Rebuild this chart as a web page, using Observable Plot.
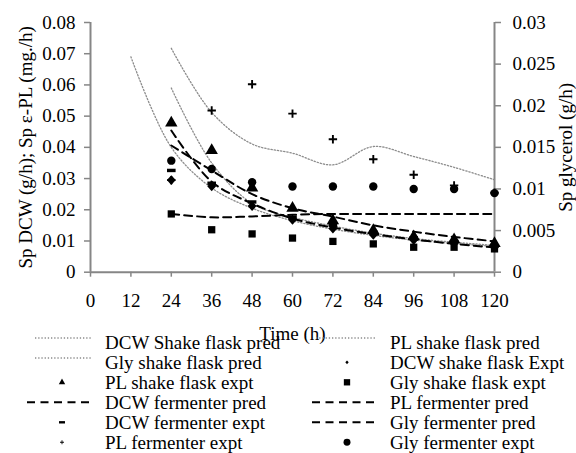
<!DOCTYPE html>
<html><head><meta charset="utf-8">
<script src="https://cdn.jsdelivr.net/npm/d3@7"></script>
<script src="https://cdn.jsdelivr.net/npm/@observablehq/plot@0.6"></script>
<style>
body{margin:0;background:#fff;}
#chart{width:576px;height:453px;position:relative;overflow:hidden;font-family:"Liberation Serif",serif;}
#chart svg text{font-family:"Liberation Serif",serif;}
</style>
</head><body><div id="chart"></div>
<script>
// ---- axis ticks ----
const timeTicks = [0, 12, 24, 36, 48, 60, 72, 84, 96, 108, 120];
const leftTicks = [0, 0.01, 0.02, 0.03, 0.04, 0.05, 0.06, 0.07, 0.08];
const rightTicks = [0, 0.005, 0.01, 0.015, 0.02, 0.025, 0.03];
const rightTickLabels = ["0", "0.005", "0.01", "0.015", "0.02", "0.025", "0.03"];

// ---- time points ----
const times = [24, 36, 48, 60, 72, 84, 96, 108, 120];
const timesFrom12 = [12, 24, 36, 48, 60, 72, 84, 96, 108, 120];

// ---- shake flask (left axis: DCW g/h, PL mg/h; right axis: glycerol g/h) ----
const dcwShakePred = [0.0690, 0.0400, 0.0270, 0.0205, 0.0165, 0.0138, 0.0118, 0.0103, 0.0092, 0.0083]; // from 12 h
const plShakePred = [0.0590, 0.0350, 0.0220, 0.0176, 0.0148, 0.0125, 0.0108, 0.0096, 0.0086];
const glyShakePred = [0.0269, 0.0192, 0.0154, 0.0143, 0.0129, 0.0151, 0.0139, 0.0126, 0.0111];
const dcwShakeExpt = [0.0295, 0.0275, 0.0212, 0.0168, 0.0140, 0.0120, 0.0103, 0.0092, 0.0080];
const plShakeExpt = [0.0478, 0.0390, 0.0270, 0.0205, 0.0165, 0.0134, 0.0114, 0.0104, 0.0092];
const glyShakeExpt = [0.0070, 0.0051, 0.0046, 0.0041, 0.0037, 0.0034, 0.0030, 0.0030, 0.0028];

// ---- fermenter ----
const dcwFermPred = [0.0454, 0.0290, 0.0220, 0.0172, 0.0143, 0.0122, 0.0105, 0.0091, 0.0079];
const plFermPred = [0.0406, 0.0326, 0.0250, 0.0205, 0.0178, 0.0150, 0.0130, 0.0113, 0.0099];
const glyFermPred = [0.0070, 0.0066, 0.0067, 0.0069, 0.0070, 0.0070, 0.0070, 0.0070, 0.0070];
const dcwFermExpt = [0.0326, 0.0285, 0.0225, 0.0176, 0.0150, 0.0128, 0.0110, 0.0098, 0.0085];
const plFermExpt = [0.0295, 0.0518, 0.0602, 0.0508, 0.0426, 0.0362, 0.0312, 0.0278, 0.0255];
const glyFermExpt = [0.0134, 0.0124, 0.0108, 0.0103, 0.0103, 0.0103, 0.0100, 0.0100, 0.0095];

// right axis (0..0.03) shares the frame with left axis (0..0.08)
const R = 0.08 / 0.03;
const pts = (ts, vs, k = 1) => ts.map((t, i) => ({t, v: vs[i] * k}));
const rightLabelByPos = new Map(rightTicks.map((v, i) => [v * R, rightTickLabels[i]]));

const diamondSym = {draw(ctx, size) { const r = Math.sqrt(size / Math.PI) * 1.1; ctx.moveTo(0, -r); ctx.lineTo(r * 0.9, 0); ctx.lineTo(0, r); ctx.lineTo(-r * 0.9, 0); ctx.closePath(); }};
const dashSym = {draw(ctx, size) { const r = Math.sqrt(size / Math.PI); ctx.rect(-r, -r * 0.4, 2 * r, r * 0.8); }};
const plusSym = {draw(ctx, size) { const r = Math.sqrt(size / Math.PI); const w = r * 0.45; ctx.rect(-r, -w / 2, 2 * r, w); ctx.rect(-w / 2, -r, w, 2 * r); }};

const FONT = "Liberation Serif";
const AX = "#868686";
const DOT = {stroke: "#8c8c8c", strokeWidth: 1.3, strokeDasharray: "1.3,1.9", curve: "catmull-rom"};
const DASH = {stroke: "black", strokeWidth: 2, strokeDasharray: "8,5", curve: "catmull-rom"};

const plot = Plot.plot({
  width: 576, height: 334,
  marginLeft: 90, marginRight: 82, marginTop: 22, marginBottom: 62.3,
  style: {fontFamily: FONT, fontSize: "19px", overflow: "visible", background: "transparent"},
  x: {domain: [0, 120]},
  y: {domain: [0, 0.08]},
  marks: [
    Plot.axisY({anchor: "left", ticks: leftTicks, tickSize: 6, tickPadding: 9, stroke: AX, strokeWidth: 1.5, fill: "black", fontSize: 19, fontFamily: FONT, tickFormat: d => String(d), label: null}),
    Plot.axisY({anchor: "right", ticks: rightTicks.map(v => v * R), tickSize: 6, tickPadding: 12, stroke: AX, strokeWidth: 1.5, fill: "black", fontSize: 19, fontFamily: FONT, tickFormat: d => rightLabelByPos.get(d), label: null}),
    Plot.axisX({ticks: timeTicks, tickSize: 5, tickPadding: 16, stroke: AX, strokeWidth: 1.5, fill: "black", fontSize: 19, fontFamily: FONT, tickFormat: d => String(d), label: null}),
    Plot.ruleX([0, 120], {stroke: AX, strokeWidth: 2}),
    Plot.ruleY([0], {stroke: AX, strokeWidth: 2}),
    Plot.text(["Sp DCW (g/h); Sp ε-PL (mg./h)"], {text: d => d, frameAnchor: "left", textAnchor: "middle", lineAnchor: "middle", dx: -65, rotate: -90, fontSize: 19, fontFamily: FONT, fill: "black"}),
    Plot.text(["Sp glycerol (g/h)"], {text: d => d, frameAnchor: "right", textAnchor: "middle", lineAnchor: "middle", dx: 71, rotate: -90, fontSize: 19, fontFamily: FONT, fill: "black"}),
    Plot.text(["Time (h)"], {text: d => d, frameAnchor: "bottom", textAnchor: "middle", lineAnchor: "middle", dy: 62, fontSize: 19, fontFamily: FONT, fill: "black"}),
    // shake flask predictions
    Plot.line(pts(timesFrom12, dcwShakePred), {x: "t", y: "v", ...DOT}),
    Plot.line(pts(times, plShakePred), {x: "t", y: "v", ...DOT}),
    Plot.line(pts(times, glyShakePred, R), {x: "t", y: "v", ...DOT}),
    // shake flask experiments
    Plot.dot(pts(times, dcwShakeExpt), {x: "t", y: "v", symbol: diamondSym, r: 4.5, fill: "black"}),
    Plot.dot(pts(times, plShakeExpt), {x: "t", y: "v", symbol: "triangle", r: 4.6, fill: "black"}),
    Plot.dot(pts(times, glyShakeExpt, R), {x: "t", y: "v", symbol: "square", r: 4.1, fill: "black"}),
    // fermenter
    Plot.line(pts(times, dcwFermPred), {x: "t", y: "v", ...DASH}),
    Plot.line(pts(times, plFermPred), {x: "t", y: "v", ...DASH}),
    Plot.dot(pts(times, dcwFermExpt), {x: "t", y: "v", symbol: dashSym, r: 4.3, fill: "black"}),
    Plot.line(pts(times, glyFermPred, R), {x: "t", y: "v", ...DASH}),
    Plot.dot(pts(times, plFermExpt), {x: "t", y: "v", symbol: plusSym, r: 4.2, fill: "black"}),
    Plot.dot(pts(times, glyFermExpt, R), {x: "t", y: "v", symbol: "circle", r: 4.2, fill: "black"})
  ]
});
const chart = document.getElementById("chart");
chart.appendChild(plot);

// ---- legend below the plot ----
const legendItems = [
  {label: "DCW Shake flask pred", kind: "dot"},
  {label: "PL shake flask pred", kind: "dot"},
  {label: "Gly shake flask pred", kind: "dot"},
  {label: "DCW shake flask Expt", kind: "sym", sym: diamondSym, size: 9},
  {label: "PL shake flask expt", kind: "sym", sym: d3.symbolTriangle, size: 18},
  {label: "Gly shake flask expt", kind: "sym", sym: d3.symbolSquare, size: 40},
  {label: "DCW fermenter pred", kind: "dash"},
  {label: "PL fermenter pred", kind: "dash"},
  {label: "DCW fermenter expt", kind: "sym", sym: dashSym, size: 28},
  {label: "Gly fermenter pred", kind: "dash"},
  {label: "PL fermenter expt", kind: "sym", sym: plusSym, size: 12},
  {label: "Gly fermenter expt", kind: "sym", sym: d3.symbolCircle, size: 38}
];
const ROW = 20;
const OFF = -1.2;
const legend = d3.select(chart).append("div")
  .style("position", "relative").style("width", "576px").style("height", (453 - 334) + "px")
  .style("font-family", FONT).style("font-size", "19px");
legendItems.forEach((it, i) => {
  const row = Math.floor(i / 2), col = i % 2;
  const sx = col ? 312 : 27, tx = col ? 390 : 105, sw = 64;
  const top = OFF + row * ROW;
  const svg = legend.append("svg").attr("width", sw).attr("height", ROW)
    .style("position", "absolute").style("left", sx + "px").style("top", top + "px").style("overflow", "visible");
  if (it.kind === "dot") {
    const cy = 5;
    svg.append("line").attr("x1", col ? 4 : 8).attr("x2", sw).attr("y1", cy).attr("y2", cy)
      .attr("stroke", "#8c8c8c").attr("stroke-width", 1.3).attr("stroke-dasharray", "1.3,1.9");
  } else if (it.kind === "dash") {
    const cy = 9.3;
    svg.append("line").attr("x1", 0).attr("x2", sw - 1).attr("y1", cy).attr("y2", cy)
      .attr("stroke", "black").attr("stroke-width", 2).attr("stroke-dasharray", "8,5.5");
  } else {
    const cy = 9.3;
    svg.append("path").attr("d", d3.symbol().type(it.sym).size(it.size)())
      .attr("transform", `translate(${sw / 2 + 3},${cy})`).attr("fill", "black");
  }
  legend.append("div").text(it.label)
    .style("position", "absolute").style("left", tx + "px").style("top", top + "px")
    .style("line-height", ROW + "px").style("white-space", "nowrap");
});
</script>
</body></html>
